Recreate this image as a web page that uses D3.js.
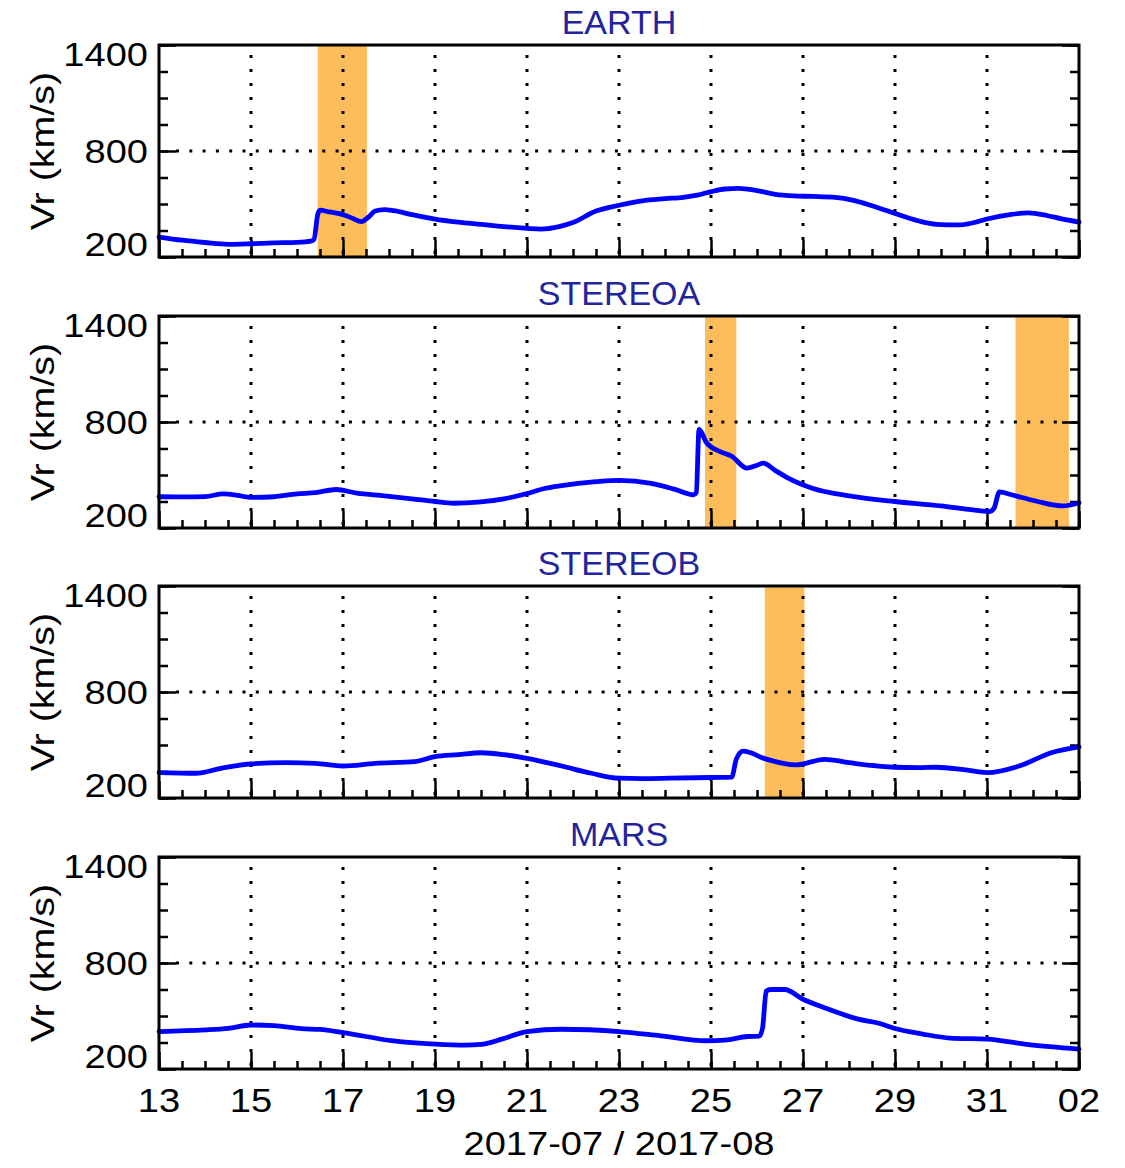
<!DOCTYPE html>
<html><head><meta charset="utf-8">
<script src="https://cdn.jsdelivr.net/npm/d3@7"></script>
<style>body{margin:0;background:#fff} svg{display:block}</style>
</head><body><svg id="c" width="1125" height="1168"></svg>
<script>
// ---------- data ----------
const panelNames = ["EARTH", "STEREOA", "STEREOB", "MARS"];
const xTickDays = [13, 15, 17, 19, 21, 23, 25, 27, 29, 31, 33];
const xTickLabels = ["13", "15", "17", "19", "21", "23", "25", "27", "29", "31", "02"];
const xTitle = "2017-07 / 2017-08";
const yTickValues = [200, 800, 1400];
const yTickLabels = ["200", "800", "1400"];
const yTitle = "Vr (km/s)";

// day = day of July 2017 (32 = Aug 1, 33 = Aug 2)
const earthDay = [13.0,13.5,14.0,14.5,15.0,15.5,16.0,16.3,16.37,16.45,16.5,16.7,17.0,17.2,17.4,17.55,17.7,17.9,18.1,18.5,19.0,19.5,20.0,20.5,21.0,21.3,21.7,22.0,22.5,23.0,23.5,24.0,24.4,24.7,25.0,25.3,25.6,26.0,26.4,26.8,27.2,27.7,28.1,28.5,29.0,29.5,29.9,30.4,30.8,31.0,31.5,31.9,32.3,32.6,33.0];
const earthVr  = [313,295,282,272,275,280,283,290,300,440,465,455,440,420,400,425,460,468,462,440,415,398,385,372,362,358,372,395,460,493,518,530,538,550,570,585,588,576,555,546,543,538,521,490,446,405,385,382,400,415,440,450,435,417,398];

const stereoaDay = [13.0,13.5,14.0,14.4,14.7,15.0,15.5,16.0,16.4,16.85,17.3,17.9,18.5,19.0,19.4,20.0,20.5,21.0,21.4,21.75,22.5,23.0,23.7,24.2,24.62,24.68,24.74,24.9,25.2,25.45,25.78,26.0,26.14,26.4,26.7,27.2,28.0,29.0,30.0,30.6,31.05,31.15,31.27,31.55,32.1,32.65,33.0];
const stereoaVr  = [377,376,378,393,385,373,377,393,400,418,397,382,365,350,340,348,365,395,425,440,462,470,453,420,388,400,758,684,632,606,539,555,567,525,479,425,382,350,325,305,293,310,405,387,350,325,343];

const stereobDay = [13.0,13.8,14.35,15.0,15.75,16.4,17.0,17.7,18.56,19.0,19.5,20.0,20.5,21.0,21.75,22.4,23.0,23.5,24.1,25.0,25.45,25.55,25.7,26.2,26.84,27.47,28.0,29.0,29.5,29.9,30.5,31.0,31.7,32.4,33.0];
const stereobVr  = [344,340,368,393,400,396,381,396,406,434,445,456,445,424,381,340,312,310,312,316,318,420,465,420,387,419,400,374,372,374,360,344,381,456,489];

const marsDay = [13.0,14.0,14.5,15.0,15.5,16.1,16.5,17.0,18.1,19.0,19.65,20.0,20.45,21.0,21.75,23.0,23.9,24.9,25.3,25.8,26.05,26.12,26.2,26.3,26.6,27.0,27.45,28.2,28.65,29.0,29.6,30.2,31.0,31.9,33.0];
const marsVr  = [412,421,430,449,445,428,424,406,359,341,335,339,369,412,425,412,388,360,364,384,386,430,640,650,650,595,548,482,459,429,398,375,369,338,313];

// highlighted intervals (start day, end day)
const earthBands   = [[16.45, 17.52]];
const stereoaBands = [[24.87, 25.55], [31.62, 32.78]];
const stereobBands = [[26.17, 27.03]];
const marsBands    = [];

// ---------- layout ----------
const panels = [
  {name: panelNames[0], day: earthDay,   vr: earthVr,   bands: earthBands},
  {name: panelNames[1], day: stereoaDay, vr: stereoaVr, bands: stereoaBands},
  {name: panelNames[2], day: stereobDay, vr: stereobVr, bands: stereobBands},
  {name: panelNames[3], day: marsDay,    vr: marsVr,    bands: marsBands}
];
const L = 159, R = 1079, H = 212;
const tops = [45, 316, 586, 857];
const FS = 34, SX = 1.12, FONT = "'Liberation Sans', Arial, Helvetica, sans-serif";

const svg = d3.select("#c");
const x = d3.scaleLinear().domain([13, 33]).range([L, R]);

function label(g, tx, ty, s, anchor, color, rot, sx) {
  g.append("text")
    .attr("transform", `translate(${tx},${ty})` + (rot ? " rotate(-90)" : "") + ` scale(${sx || SX},1)`)
    .attr("text-anchor", anchor)
    .attr("font-family", FONT)
    .attr("font-size", FS)
    .attr("fill", color || "#000")
    .text(s);
}

panels.forEach((p, i) => {
  const top = tops[i], bot = top + H;
  const y = d3.scaleLinear().domain([200, 1400]).range([bot, top]);
  const g = svg.append("g");

  // bands
  g.selectAll("rect.band").data(p.bands).enter().append("rect")
    .attr("x", d => x(d[0])).attr("width", d => x(d[1]) - x(d[0]))
    .attr("y", top).attr("height", H)
    .attr("fill", "#fdbd5b");

  // vertical dotted grid
  const inner = xTickDays.slice(1, -1);
  g.selectAll("line.vg").data(inner).enter().append("line")
    .attr("x1", d => x(d)).attr("x2", d => x(d))
    .attr("y1", top + 10).attr("y2", bot)
    .attr("stroke", "#000").attr("stroke-width", 3)
    .attr("stroke-dasharray", "3,11");
  // horizontal dotted grid at 800
  g.append("line")
    .attr("x1", L + 17).attr("x2", R - 17)
    .attr("y1", y(800)).attr("y2", y(800))
    .attr("stroke", "#000").attr("stroke-width", 3)
    .attr("stroke-dasharray", "3,10.3");

  // bottom axis ticks (inward)
  const minorX = d3.range(13, 33.01, 0.5);
  g.append("g").attr("transform", `translate(0,${bot})`)
    .call(d3.axisTop(x).tickValues(minorX).tickSize(8).tickFormat(""))
    .call(a => a.select(".domain").remove())
    .call(a => a.selectAll("line").attr("stroke-width", 2.5));
  g.append("g").attr("transform", `translate(0,${bot})`)
    .call(d3.axisTop(x).tickValues(xTickDays).tickSize(17).tickFormat(""))
    .call(a => a.select(".domain").remove())
    .call(a => a.selectAll("line").attr("stroke-width", 2.5));

  // left / right axis ticks (inward)
  const minorY = d3.range(200, 1400.1, 150);
  [[L, d3.axisRight], [R, d3.axisLeft]].forEach(([px, ax]) => {
    g.append("g").attr("transform", `translate(${px},0)`)
      .call(ax(y).tickValues(minorY).tickSize(9).tickFormat(""))
      .call(a => a.select(".domain").remove())
      .call(a => a.selectAll("line").attr("stroke-width", 2.5));
    g.append("g").attr("transform", `translate(${px},0)`)
      .call(ax(y).tickValues(yTickValues).tickSize(17).tickFormat(""))
      .call(a => a.select(".domain").remove())
      .call(a => a.selectAll("line").attr("stroke-width", 2.5));
  });

  // data line
  const pts = p.day.map((d, k) => [d, p.vr[k]]);
  g.append("path").datum(pts)
    .attr("d", d3.line().x(d => x(d[0])).y(d => y(d[1])).curve(d3.curveMonotoneX))
    .attr("fill", "none").attr("stroke", "#0000ff")
    .attr("stroke-width", 4.8).attr("stroke-linejoin", "round").attr("stroke-linecap", "round");

  // frame
  g.append("rect").attr("x", L).attr("y", top).attr("width", R - L).attr("height", H)
    .attr("fill", "none").attr("stroke", "#000").attr("stroke-width", 3);

  // y tick labels
  yTickValues.forEach((v, k) => {
    let by;
    if (v === 1400) by = top + 21;
    else if (v === 200) by = bot - 1;
    else by = y(v) + 12;
    label(g, 148, by, yTickLabels[k], "end");
  });

  // y title
  label(g, 54, (top + bot) / 2, yTitle, "middle", "#000", true, 1.16);

  // panel title
  label(g, (L + R) / 2, top - 11, p.name, "middle", "#24249c", false, 1.0);

  // x tick labels on last panel
  if (i === panels.length - 1) {
    xTickDays.forEach((d, k) => label(g, x(d), bot + 43, xTickLabels[k], "middle"));
    label(g, (L + R) / 2, bot + 86, xTitle, "middle");
  }
});
</script></body></html>
